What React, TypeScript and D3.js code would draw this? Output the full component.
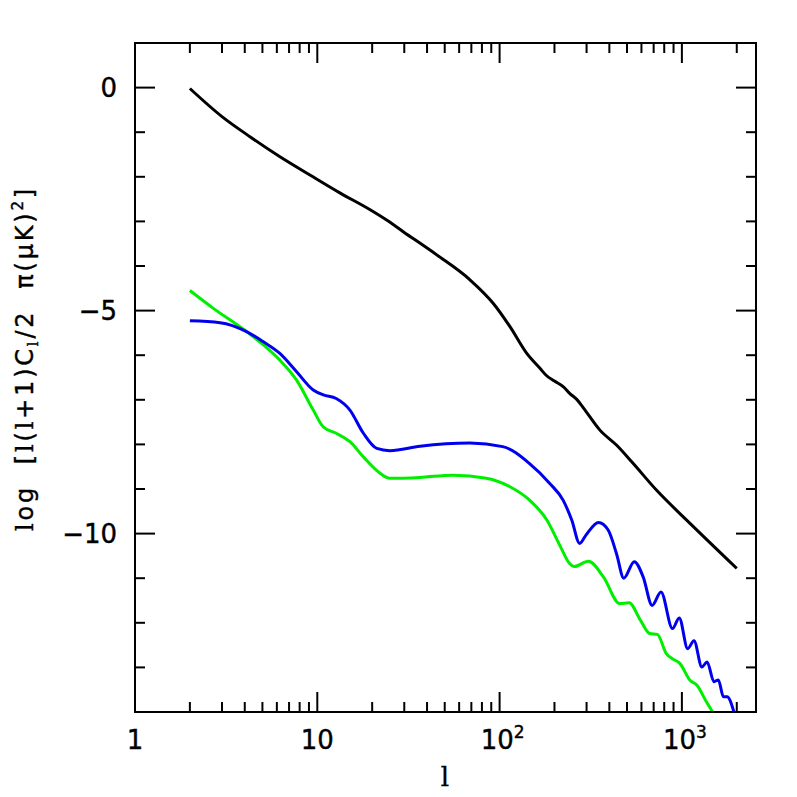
import React from "react";
import * as d3 from "d3";

// ---- data ----
const blackL = [2, 3, 4.27, 6.24, 9.47, 13.3, 19.5, 24, 29.6, 45.2, 68.8, 92.4, 114, 141, 167, 180, 200, 224, 243, 265, 288, 355, 439, 541, 727, 1108, 2000];
const blackY = [-0.02, -0.65, -1.1, -1.55, -2.0, -2.36, -2.74, -2.97, -3.23, -3.75, -4.31, -4.84, -5.36, -5.96, -6.3, -6.45, -6.58, -6.71, -6.86, -6.99, -7.18, -7.68, -8.02, -8.43, -9.03, -9.77, -10.78];

const blueL = [2, 2.93, 4.09, 5.06, 6.23, 7.7, 9.5, 10.8, 12.7, 15.1, 17.9, 21.2, 25, 36.6, 68.8, 104, 146, 189, 223, 249, 275, 297, 349, 394, 438, 480, 548, 613, 687, 768, 888, 967, 1076, 1165, 1287, 1375, 1500, 1585, 1690, 1770, 1930];
const blueY = [-5.23, -5.27, -5.47, -5.7, -5.96, -6.37, -6.78, -6.89, -6.97, -7.23, -7.75, -8.09, -8.14, -8.04, -7.97, -8.05, -8.43, -8.88, -9.25, -9.7, -10.22, -10.04, -9.75, -9.92, -10.45, -11.0, -10.63, -10.97, -11.61, -11.31, -12.13, -11.89, -12.58, -12.4, -12.99, -12.88, -13.32, -13.28, -13.66, -13.66, -14.0];

const greenL = [2, 2.69, 4.09, 5.06, 6.23, 7.7, 9.5, 10.8, 12.7, 15.1, 17.9, 22, 25, 36.6, 55.5, 84.6, 114, 146, 182, 215, 242, 257, 307, 371, 456, 513, 592, 665, 734, 821, 892, 974, 1108, 1210, 1350, 1475];
const greenY = [-4.55, -4.95, -5.47, -5.77, -6.11, -6.56, -7.23, -7.61, -7.75, -7.94, -8.28, -8.64, -8.76, -8.74, -8.69, -8.76, -8.95, -9.25, -9.7, -10.28, -10.67, -10.74, -10.62, -10.97, -11.57, -11.55, -11.94, -12.24, -12.26, -12.69, -12.81, -12.91, -13.29, -13.4, -13.74, -14.0];

const xMajorTicks = [1, 10, 100, 1000];
const xTickLabels: [string, string][] = [["1", ""], ["10", ""], ["10", "2"], ["10", "3"]];
const yMajorTicks = [0, -5, -10];
const yTickLabels = ["0", "\u22125", "\u221210"];

const W = 797, H = 797;
const L = 135, R = 756, T = 43, B = 712;
const FONT = "DejaVu Sans, sans-serif";
const SERIF = "DejaVu Serif, serif";

export default function App() {
  const x = d3.scaleLog().domain([1, 2550]).range([L, R]);
  const y = d3.scaleLinear().domain([-14, 1]).range([B, T]);

  const mk = (ls: number[], ys: number[]) =>
    d3.line<number>()
      .x((_, i) => x(ls[i]))
      .y((_, i) => y(ys[i]))
      .curve(d3.curveMonotoneX)(ys as any) || "";

  const xMinor: number[] = [];
  for (let d = 1; d <= 1000; d *= 10)
    for (let k = 2; k <= 9; k++) if (k * d < 2550) xMinor.push(k * d);
  const yMinor: number[] = [];
  for (let v = -13; v <= 0; v++) if (v % 5 !== 0) yMinor.push(v);

  const tick = { stroke: "#000", strokeWidth: 2 };
  const txt = { fill: "#000", stroke: "#000", strokeWidth: 0.4 };

  return (
    <svg width={W} height={H} style={{ position: "absolute", left: 0, top: 0, background: "#fff" }}>
      <defs>
        <clipPath id="plot"><rect x={L} y={T} width={R - L} height={B - T} /></clipPath>
      </defs>
      <rect x={0} y={0} width={W} height={H} fill="#fff" />
      {xMinor.map((v) => (
        <g key={"xm" + v}>
          <line x1={x(v)} x2={x(v)} y1={B} y2={B - 10} {...tick} />
          <line x1={x(v)} x2={x(v)} y1={T} y2={T + 10} {...tick} />
        </g>
      ))}
      {xMajorTicks.map((v) => (
        <g key={"xM" + v}>
          <line x1={x(v)} x2={x(v)} y1={B} y2={B - 20} {...tick} />
          <line x1={x(v)} x2={x(v)} y1={T} y2={T + 20} {...tick} />
        </g>
      ))}
      {yMinor.map((v) => (
        <g key={"ym" + v}>
          <line x1={L} x2={L + 10} y1={y(v)} y2={y(v)} {...tick} />
          <line x1={R} x2={R - 10} y1={y(v)} y2={y(v)} {...tick} />
        </g>
      ))}
      {yMajorTicks.map((v) => (
        <g key={"yM" + v}>
          <line x1={L} x2={L + 20} y1={y(v)} y2={y(v)} {...tick} />
          <line x1={R} x2={R - 20} y1={y(v)} y2={y(v)} {...tick} />
        </g>
      ))}
      <g clipPath="url(#plot)" fill="none" strokeWidth={3} strokeLinejoin="round">
        <path d={mk(greenL, greenY)} stroke="#00ee00" />
        <path d={mk(blueL, blueY)} stroke="#0000ee" />
        <path d={mk(blackL, blackY)} stroke="#000" />
      </g>
      <rect x={L} y={T} width={R - L} height={B - T} fill="none" stroke="#000" strokeWidth={2} />
      {xMajorTicks.map((v, i) => (
        <text key={"xl" + v} x={x(v) + (xTickLabels[i][1] ? 3 : 0)} y={749} textAnchor="middle" fontFamily={FONT} fontSize={26} {...txt}>
          {xTickLabels[i][0]}
          {xTickLabels[i][1] ? <tspan fontSize={17} dy={-11}>{xTickLabels[i][1]}</tspan> : null}
        </text>
      ))}
      {yMajorTicks.map((v, i) => (
        <text key={"yl" + v} x={117} y={y(v) + 9} textAnchor="end" fontFamily={FONT} fontSize={26} {...txt}>
          {yTickLabels[i]}
        </text>
      ))}
      <text x={445} y={786} textAnchor="middle" fontFamily={SERIF} fontSize={26} {...txt}>l</text>
      <text transform={`translate(33,${(T + B) / 2 - 19}) rotate(-90)`} textAnchor="middle" fontFamily={FONT} fontSize={24} letterSpacing={2.8} {...txt} style={{ whiteSpace: "pre" }}>
        <tspan fontFamily={SERIF}>l</tspan>
        {"og  ["}
        <tspan fontFamily={SERIF}>l</tspan>
        {"("}
        <tspan fontFamily={SERIF}>l</tspan>
        {"+1)C"}
        <tspan fontFamily={SERIF} fontSize={15} dy={5}>l</tspan>
        <tspan dy={-5}>{"/2  \u03c0(\u03bcK)"}</tspan>
        <tspan fontSize={15} dy={-10}>2</tspan>
        <tspan dy={10}>]</tspan>
      </text>
    </svg>
  );
}
